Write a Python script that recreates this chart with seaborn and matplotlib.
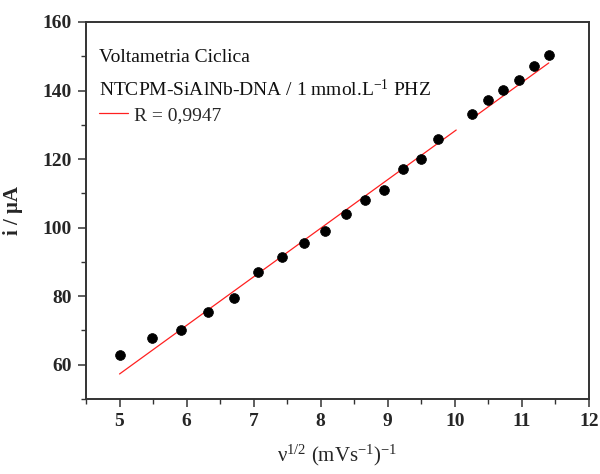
import matplotlib
matplotlib.use("Agg")
import matplotlib.pyplot as plt
import seaborn as sns
import pandas as pd
import numpy as np
from matplotlib.ticker import MultipleLocator

# data
sqrt_v = [5.00, 5.48, 5.92, 6.32, 6.71, 7.07, 7.42, 7.75, 8.06, 8.37, 8.66,
          8.94, 9.22, 9.49, 9.75, 10.25, 10.49, 10.72, 10.95, 11.18, 11.40]
current = [62.8, 67.8, 70.2, 75.4, 79.5, 87.0, 91.4, 95.4, 99.0, 104.0, 108.0,
           111.0, 117.1, 120.0, 125.9, 133.3, 137.2, 140.3, 143.2, 147.2, 150.3]
fit_slope = 14.18
fit_intercept = -13.6
fit_seg1 = [5.00, 10.02]
fit_seg2 = [10.25, 11.40]
x_ticks = [5, 6, 7, 8, 9, 10, 11, 12]
y_ticks = [60, 80, 100, 120, 140, 160]

sns.set_theme(style="ticks")
plt.rcParams['font.family'] = ['Liberation Serif', 'DejaVu Serif']
plt.rcParams['mathtext.fontset'] = 'custom'
plt.rcParams['mathtext.rm'] = 'Liberation Serif'
plt.rcParams['mathtext.it'] = 'Liberation Serif:italic'
plt.rcParams['mathtext.bf'] = 'Liberation Serif:bold'

fig = plt.figure(figsize=(6.0, 4.74), dpi=100)
ax = fig.add_axes([86/600, 1-399/474, (589-86)/600, (399-22)/474])

df = pd.DataFrame({"x": sqrt_v, "y": current})
sns.scatterplot(data=df, x="x", y="y", ax=ax, color="black", s=50,
                edgecolor="black", linewidth=0.5, zorder=3, legend=False)

seg1 = pd.DataFrame({"x": fit_seg1})
seg1["y"] = fit_slope * seg1["x"] + fit_intercept
seg2 = pd.DataFrame({"x": fit_seg2})
seg2["y"] = fit_slope * seg2["x"] + fit_intercept
sns.lineplot(data=seg1, x="x", y="y", ax=ax, color="#ff2020", linewidth=0.9,
             label="R = 0,9947", zorder=2)
sns.lineplot(data=seg2, x="x", y="y", ax=ax, color="#ff2020", linewidth=0.9,
             zorder=2)

ax.set_xlim(4.5, 12)
ax.set_ylim(50, 160)
ax.set_xticks(x_ticks)
ax.set_yticks(y_ticks)
ax.xaxis.set_minor_locator(MultipleLocator(0.5))
ax.yaxis.set_minor_locator(MultipleLocator(10))
ax.tick_params(which="major", direction="out", length=6, width=1.1,
               color="#333333", labelsize=14, pad=4)
ax.tick_params(which="minor", direction="out", length=3.5, width=1.0,
               color="#333333")
for lab in ax.get_xticklabels() + ax.get_yticklabels():
    lab.set_fontweight("bold")
for sp in ax.spines.values():
    sp.set_visible(True)
    sp.set_linewidth(1.4)
    sp.set_color("#333333")

ax.set_xlabel("ν$^{1/2}$ (mVs$^{-1}$)$^{-1}$", fontsize=15, labelpad=9)
ax.set_ylabel("i / μA", fontsize=15, fontweight="bold", labelpad=14)

ax.text(0.026, 0.907, "Voltametria Ciclica", transform=ax.transAxes,
        fontsize=14, va="center", ha="left", color="#111111")
ax.text(0.026, 0.820, r"NTCPM-SiAlNb-DNA / 1 mmol.L$^{-1}$ PHZ",
        transform=ax.transAxes, fontsize=14, va="center", ha="left",
        color="#111111")
leg = ax.legend(loc="center left", bbox_to_anchor=(0.026, 0.752), frameon=False,
                fontsize=14, handlelength=1.5, handletextpad=0.3,
                borderaxespad=0.0, borderpad=0.0)

fig.savefig("out.png", dpi=100)
